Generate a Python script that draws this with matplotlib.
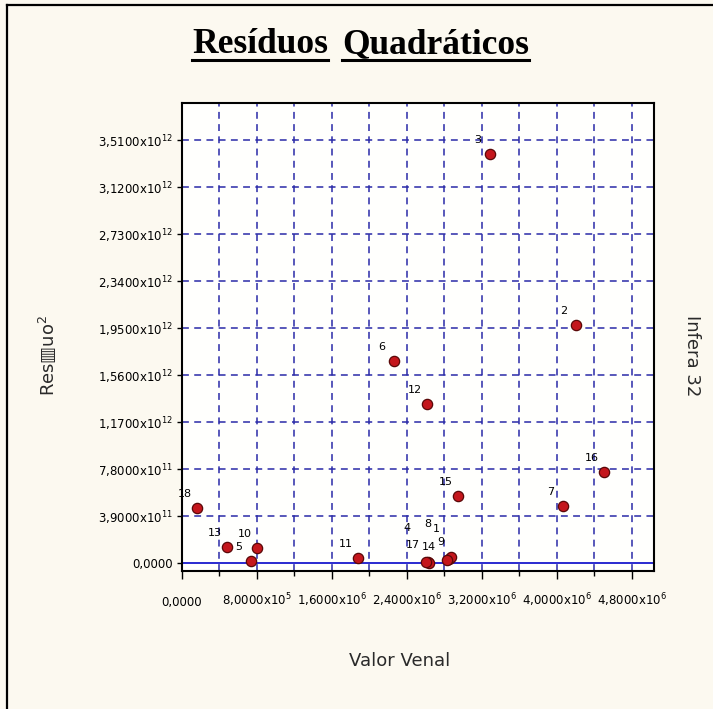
import matplotlib
matplotlib.use("Agg")
import matplotlib.pyplot as plt
from matplotlib.lines import Line2D

# residuo quadratico de cada amostra contra o valor venal
ids = [1, 2, 3, 4, 5, 6, 7, 8, 9, 10, 11, 12, 13, 14, 15, 16, 17, 18]
valor_venal = [2.85e6, 4.20e6, 3.285e6, 2.62e6, 7.36e5, 2.26e6, 4.06e6, 2.87e6, 2.83e6,
               8.0e5, 1.877e6, 2.61e6, 4.8e5, 2.64e6, 2.94e6, 4.50e6, 2.60e6, 1.6e5]
residuo_quad = [3.0e10, 1.975e12, 3.394e12, 1.2e10, 1.7e10, 1.676e12, 4.73e11, 4.8e10, 2.2e10,
                1.24e11, 4.1e10, 1.319e12, 1.33e11, 4.0e9, 5.56e11, 7.55e11, 8.0e9, 4.56e11]

yticks = [0, 3.9e11, 7.8e11, 1.17e12, 1.56e12, 1.95e12, 2.34e12, 2.73e12, 3.12e12, 3.51e12]
ytick_labels = ["0,0000", "3,9000x10$^{11}$", "7,8000x10$^{11}$", "1,1700x10$^{12}$",
                "1,5600x10$^{12}$", "1,9500x10$^{12}$", "2,3400x10$^{12}$", "2,7300x10$^{12}$",
                "3,1200x10$^{12}$", "3,5100x10$^{12}$"]
xticks = [0, 8e5, 1.6e6, 2.4e6, 3.2e6, 4.0e6, 4.8e6]
xtick_labels = ["0,0000", "8,0000x10$^{5}$", "1,6000x10$^{6}$", "2,4000x10$^{6}$",
                "3,2000x10$^{6}$", "4,0000x10$^{6}$", "4,8000x10$^{6}$"]
xminor = [4e5, 1.2e6, 2.0e6, 2.8e6, 3.6e6, 4.4e6]

# deslocamento (px) do rotulo em relacao ao ponto
offset_padrao = (-12, 14)
offsets = {4: (-21, 34), 8: (-23, 33), 17: (-13, 17), 14: (-1, 16), 1: (-13, 30), 9: (-6, 18)}

W, H = 713, 709
fig = plt.figure(figsize=(W / 100, H / 100), dpi=100)
fig.patch.set_facecolor("#fcf9f0")

# moldura externa
fig.add_artist(Line2D([7 / W, 7 / W], [0, 1 - 5 / H], color="black", lw=1.6))
fig.add_artist(Line2D([7 / W, 1], [1 - 5 / H, 1 - 5 / H], color="black", lw=1.6))

ax = fig.add_axes([182 / W, 1 - 571 / H, (654 - 182) / W, (571 - 103) / H])
ax.set_facecolor("#fffffd")
ax.set_xlim(0, 5.035e6)
ax.set_ylim(-6.64e10, 3.817e12)

grid_kw = dict(color="#2a2aa8", lw=1.1, ls=(0, (4.5, 3.5)), zorder=1)
for xv in xticks[1:] + xminor:
    ax.axvline(xv, **grid_kw)
for yv in yticks[1:]:
    ax.axhline(yv, **grid_kw)
ax.axhline(0, color="#2a2ad0", lw=1.4, zorder=2)

ax.set_xticks(xticks)
ax.set_xticklabels(xtick_labels, va="baseline")
ax.set_xticks(xminor, minor=True)
ax.set_yticks(yticks)
ax.set_yticklabels(ytick_labels)
ax.tick_params(axis="x", which="major", length=6, width=1, pad=19, labelsize=8.5)
ax.tick_params(axis="x", which="minor", length=3.6, width=1)
ax.tick_params(axis="y", length=3.6, width=1, pad=3, labelsize=8.5)
for s in ax.spines.values():
    s.set_linewidth(1.5)

ax.scatter(valor_venal, residuo_quad, s=55, facecolor="#c4161c", edgecolor="#5a0808",
           linewidth=0.9, zorder=4)
for i, xv, yv in zip(ids, valor_venal, residuo_quad):
    dx, dy = offsets.get(i, offset_padrao)
    ax.annotate(str(i), (xv, yv), xytext=(dx * 0.72, dy * 0.72), textcoords="offset points",
                ha="center", va="center", fontsize=8, zorder=3)

lbl_kw = dict(ha="center", va="center", fontsize=13, family=["DejaVu Sans"], color="#2a2a2a")
fig.text(400 / W, 1 - 661 / H, "Valor Venal", **lbl_kw)
fig.text(47 / W, 1 - 355 / H, "Res\u25a5uo$^{2}$", rotation=90, **lbl_kw)
fig.text(692 / W, 1 - 356 / H, "Infera 32", rotation=-90, **lbl_kw)

# titulo sublinhado palavra por palavra
t1 = fig.text(192 / W, 1 - 53 / H, "Resíduos", ha="left", va="baseline", fontsize=25.5,
              family="Liberation Serif", weight="bold")
t2 = fig.text(342 / W, 1 - 53 / H, "Quadráticos", ha="left", va="baseline", fontsize=25.5,
              family="Liberation Serif", weight="bold")
fig.canvas.draw()
r = fig.canvas.get_renderer()
for t in (t1, t2):
    bb = t.get_window_extent(r)
    yl = 1 - 60 / H
    fig.add_artist(Line2D([bb.x0 / W, bb.x1 / W], [yl, yl], color="black", lw=2.2))

fig.savefig("out.png", dpi=100, facecolor=fig.get_facecolor())
